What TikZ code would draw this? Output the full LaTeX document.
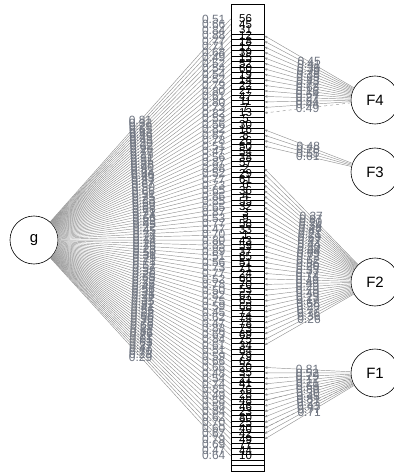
\documentclass[tikz,border=0pt]{standalone}
\usepackage{fontspec}
\setmainfont{Liberation Sans}
\usetikzlibrary{arrows.meta,calc}
\definecolor{labgray}{RGB}{112,118,130}
\begin{document}
\begin{tikzpicture}[x=1bp,y=-1bp,
  gline/.style={draw=black!42,line width=0.45bp},
  fline/.style={draw=black!42,line width=0.45bp,-{Latex[length=3bp,width=2.6bp]}},
  lab/.style={text=labgray,font=\fontsize{12}{12}\selectfont,inner sep=0pt},
  varbox/.style={draw=black,fill=white,line width=0.6bp,minimum width=33bp,minimum height=30bp,inner sep=0pt},
  vtext/.style={text=black,font=\fontsize{11.5}{11.5}\selectfont,inner sep=0pt},
  fac/.style={circle,draw=black,fill=white,line width=0.6bp,minimum size=48bp,inner sep=0pt,font=\fontsize{15}{15}\selectfont}]
\useasboundingbox (0,0) rectangle (393,472);
\def\names{{56,45,31,12,18,17,39,15,52,60,19,14,22,27,47,11,7,13,5,30,16,8,26,50,54,38,57,2,29,61,6,36,4,55,32,3,9,58,33,1,43,59,37,65,51,71,24,66,70,53,67,63,68,72,74,78,73,69,75,34,64,79,62,20,35,21,41,76,28,48,46,23,80,25,40,42,49,77,44,10}}
% variable boxes, drawn from bottom to top
\foreach \i in {80,...,1}{
  \pgfmathsetmacro\yy{19+(\i-1)*5.53}
  \node[varbox] (v\i) at (247.5,\yy) {};
}
% factors
\node[fac] (g) at (34,240) {g};
\node[fac] (F4) at (375,100) {F4};
\node[fac] (F3) at (375,172) {F3};
\node[fac] (F2) at (375,282) {F2};
\node[fac] (F1) at (375,373) {F1};
\pgfmathsetseed{7}
% general factor loadings
\foreach \i in {1,...,80}{
  \pgfmathtruncatemacro\gv{22+68*rnd}
  \pgfmathtruncatemacro\gw{45+45*rnd}
  \draw[gline] (g) -- node[lab]{0.\gv} (v\i.west);
  \node[lab] at ($(v\i.west)+(-17,0)$) {0.\gw};
}
% group factors
\foreach \i in {4,...,17}{
  \pgfmathtruncatemacro\fv{15+75*rnd}
  \draw[fline] (F4) -- node[lab]{0.\fv} (v\i.east);
}
\draw[fline,dashed] (F4) -- node[lab]{0.49} (v18.east);
\foreach \i/\fv in {21/48,22/78,23/55,24/61}{
  \draw[fline] (F3) -- node[lab]{0.\fv} (v\i.east);
}
\foreach \i in {28,...,60}{
  \pgfmathtruncatemacro\fv{15+75*rnd}
  \draw[fline] (F2) -- node[lab]{0.\fv} (v\i.east);
}
\foreach \i in {64,...,77}{
  \pgfmathtruncatemacro\fv{12+70*rnd}
  \draw[fline] (F1) -- node[lab]{0.\fv} (v\i.east);
}
\draw[fline,dashed] (F1) -- (v70.east);
\draw[fline,dashed] (F1) -- (v75.east);
% variable names
\foreach \i in {1,...,80}{
  \pgfmathtruncatemacro\nm{\names[\i-1]}
  \node[vtext] at ($(v\i.center)+(-2,0)$) {\nm};
}
\end{tikzpicture}
\end{document}
